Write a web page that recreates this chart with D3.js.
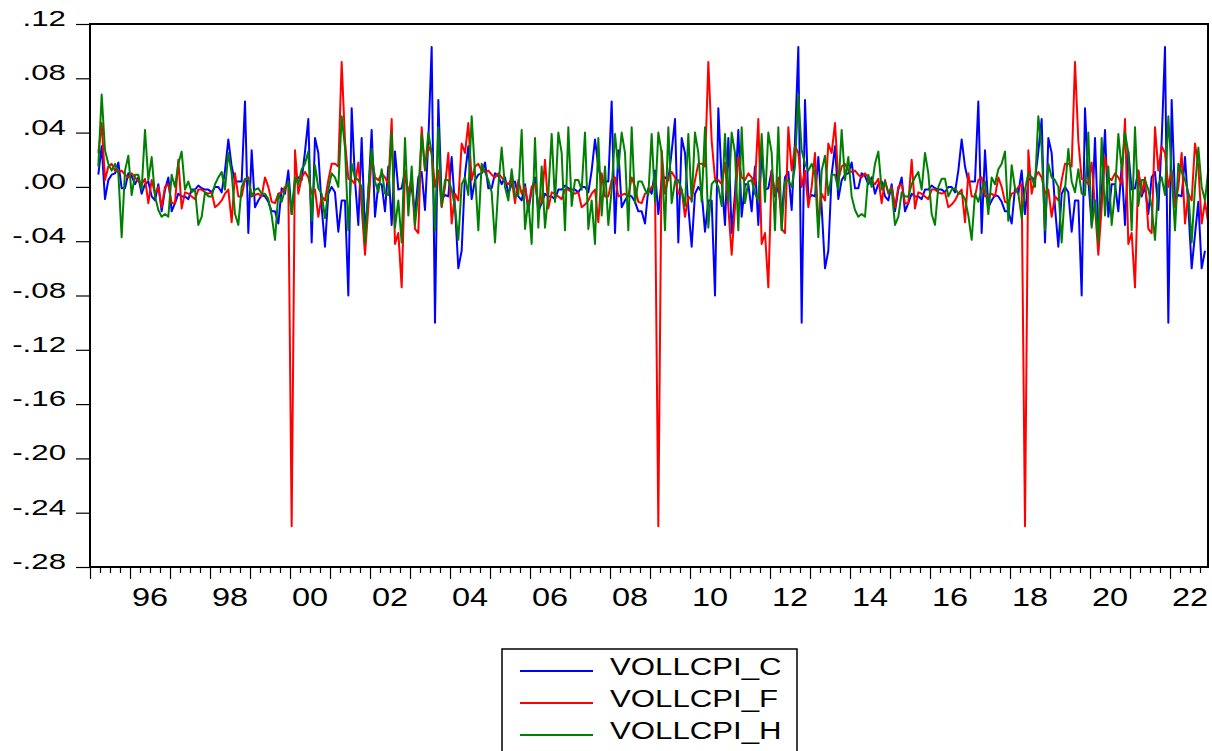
<!DOCTYPE html>
<html>
<head>
<meta charset="utf-8">
<script src="https://cdn.jsdelivr.net/npm/d3@7"></script>
<style>
  body { margin: 0; background: #fff; }
  svg { display: block; }
  text { font-family: "Liberation Sans", Arial, sans-serif; fill: #000; }
</style>
</head>
<body>
<script>
// monthly series, first observation 1995M3
const startYear = 1995;
const startMonth = 3;

const volC = [
  .009, .030, -.009, .005, .009, .010, .018, -.001, -.001, .010,
  .008, .002, .007, -.005, .002, .004, -.007, -.010, .002, -.018,
  -.002, .007, -.018, -.012, -.005, -.007, -.007, -.009, -.002, -.002,
  .001, -.001, -.002, -.002, -.004, .000, .000, -.004, .012, .035,
  .015, .004, .004, .004, .063, -.034, .027, -.015, -.010, -.006,
  -.007, -.011, -.018, -.018, -.027, -.001, -.005, .012, -.020, .005,
  .007, .005, .026, .050, -.041, .036, .025, -.015, -.044, -.005,
  .000, -.004, -.033, -.010, -.010, -.080, .058, .005, -.028, .036,
  -.034, -.005, .042, -.022, .002, .002, -.018, .015, -.028, .026,
  -.002, -.001, .012, -.007, .000, -.020, .007, .011, -.017, .034,
  .103, -.100, .064, -.009, -.006, -.007, .022, -.015, -.060, -.047,
  .009, .030, -.009, .005, .009, .010, .018, -.001, -.001, .010,
  .008, .002, .007, -.005, .002, .004, -.007, -.010, .002, -.018,
  -.002, .007, -.018, -.012, -.005, -.007, -.007, -.009, -.002, -.002,
  .001, -.001, -.002, -.002, -.004, .000, .000, -.004, .012, .035,
  .015, .004, .004, .004, .063, -.034, .027, -.015, -.010, -.006,
  -.007, -.011, -.018, -.018, -.027, -.001, -.005, .012, -.020, .005,
  .007, .005, .026, .050, -.041, .036, .025, -.015, -.044, -.005,
  .000, -.004, -.033, -.010, -.010, -.080, .058, .005, -.028, .036,
  -.034, -.005, .042, -.022, .002, .002, -.018, .015, -.028, .026,
  -.002, -.001, .012, -.007, .000, -.020, .007, .011, -.017, .034,
  .103, -.100, .064, -.009, -.006, -.007, .022, -.015, -.060, -.047,
  .009, .030, -.009, .005, .009, .010, .018, -.001, -.001, .010,
  .008, .002, .007, -.005, .002, .004, -.007, -.010, .002, -.018,
  -.002, .007, -.018, -.012, -.005, -.007, -.007, -.009, -.002, -.002,
  .001, -.001, -.002, -.002, -.004, .000, .000, -.004, .012, .035,
  .015, .004, .004, .004, .063, -.034, .027, -.015, -.010, -.006,
  -.007, -.011, -.018, -.018, -.027, -.001, -.005, .012, -.020, .005,
  .007, .005, .026, .050, -.041, .036, .025, -.015, -.044, -.005,
  .000, -.004, -.033, -.010, -.010, -.080, .058, .005, -.028, .036,
  -.034, -.005, .042, -.022, .002, .002, -.018, .015, -.028, .026,
  -.002, -.001, .012, -.007, .000, -.020, .007, .011, -.017, .034,
  .103, -.100, .064, -.009, -.006, -.007, .022, -.015, -.060, -.035,
  -.011, -.060, -.047
];

const volF = [
  .025, .047, .005, .015, .017, .012, .011, .012, .009, .007,
  .010, .007, .004, .002, .006, -.012, .005, -.005, .000, -.015,
  .000, .002, -.012, -.012, .020, -.016, -.004, -.005, -.007, -.009,
  -.002, -.002, -.004, -.005, -.004, -.015, -.013, -.010, -.005, -.002,
  -.026, .010, -.007, -.007, .005, .007, -.007, -.006, -.005, -.007,
  .007, .000, -.011, -.012, -.005, -.004, .000, .002, -.250, .027,
  -.005, .007, .011, .007, -.005, -.002, -.022, -.007, -.010, .005,
  .017, .017, .015, .092, .034, .006, .005, .002, .018, -.015,
  -.050, -.015, .022, .007, .005, .010, .007, .002, .050, -.042,
  -.034, -.074, .012, -.005, .007, -.031, -.034, .044, .012, .030,
  .025, .000, .012, -.015, .000, .025, -.027, -.005, -.010, .032,
  .025, .047, .005, .015, .017, .012, .011, .012, .009, .007,
  .010, .007, .004, .002, .006, -.012, .005, -.005, .000, -.015,
  .000, .002, -.012, -.012, .020, -.016, -.004, -.005, -.007, -.009,
  -.002, -.002, -.004, -.005, -.004, -.015, -.013, -.010, -.005, -.002,
  -.026, .010, -.007, -.007, .005, .007, -.007, -.006, -.005, -.007,
  .007, .000, -.011, -.012, -.005, -.004, .000, .002, -.250, .027,
  -.005, .007, .011, .007, -.005, -.002, -.022, -.007, -.010, .005,
  .017, .017, .015, .092, .034, .006, .005, .002, .018, -.015,
  -.050, -.015, .022, .007, .005, .010, .007, .002, .050, -.042,
  -.034, -.074, .012, -.005, .007, -.031, -.034, .044, .012, .030,
  .025, .000, .012, -.015, .000, .025, -.027, -.005, -.010, .032,
  .025, .047, .005, .015, .017, .012, .011, .012, .009, .007,
  .010, .007, .004, .002, .006, -.012, .005, -.005, .000, -.015,
  .000, .002, -.012, -.012, .020, -.016, -.004, -.005, -.007, -.009,
  -.002, -.002, -.004, -.005, -.004, -.015, -.013, -.010, -.005, -.002,
  -.026, .010, -.007, -.007, .005, .007, -.007, -.006, -.005, -.007,
  .007, .000, -.011, -.012, -.005, -.004, .000, .002, -.250, .027,
  -.005, .007, .011, .007, -.005, -.002, -.022, -.007, -.010, .005,
  .017, .017, .015, .092, .034, .006, .005, .002, .018, -.015,
  -.050, -.015, .022, .007, .005, .010, .007, .002, .050, -.042,
  -.034, -.074, .012, -.005, .007, -.031, -.034, .044, .012, .030,
  .025, .000, .012, -.015, .000, .025, -.027, -.005, -.010, .032,
  .015, -.027, -.011, -.027
];

const volH = [
  .015, .068, .027, .017, .012, .017, .010, -.037, .012, .023,
  -.006, .009, .009, -.002, .042, .005, .022, -.007, -.017, -.022,
  -.020, -.022, .009, .000, .017, .026, -.002, .004, -.004, -.002,
  -.028, -.022, -.004, -.007, -.007, .002, .007, .011, -.002, .025,
  .010, -.020, -.028, .000, .006, .006, -.007, -.002, -.001, -.005,
  -.005, -.009, -.021, -.039, -.005, -.011, -.002, .004, -.020, .007,
  .002, .013, .017, .026, -.025, .016, -.001, -.005, -.023, -.002,
  .010, .007, .000, .052, .029, -.032, .017, .007, .005, .000,
  -.041, -.002, .028, .004, -.004, .013, -.005, -.006, .040, -.030,
  -.010, -.041, .036, -.021, .015, -.028, -.004, .039, .013, .040,
  .025, -.032, .044, -.014, .005, .005, -.002, -.015, -.039, .002,
  .007, -.006, .052, .010, -.032, .017, .011, .005, -.004, -.041,
  .000, .029, .000, -.010, .013, -.007, -.006, .042, -.031, -.010,
  -.042, .036, -.030, .015, -.030, -.005, .039, -.011, .040, .025,
  -.032, .044, -.014, .005, .005, -.002, .040, -.031, -.010, -.042,
  .036, -.021, .015, -.028, -.002, .039, .013, .040, .025, -.032,
  .044, -.012, .004, .004, -.002, -.006, .039, -.011, .040, .025,
  -.032, .044, -.012, .004, .005, -.002, -.014, .039, -.011, .040,
  .025, -.011, .044, -.030, .002, .005, .000, -.014, .039, -.011,
  .040, .025, -.032, .044, -.012, .004, .005, -.005, -.010, .039,
  -.011, .040, .025, -.032, .044, -.032, .004, .005, .000,
  .015, .068, .027, .017, .012, .017, .010, -.037, .012, .023,
  -.006, .009, .009, -.002, .042, .005, .022, -.007, -.017, -.022,
  -.020, -.022, .009, .000, .017, .026, -.002, .004, -.004, -.002,
  -.028, -.022, -.004, -.007, -.007, .002, .007, .011, -.002, .025,
  .010, -.020, -.028, .000, .006, .006, -.007, -.002, -.001, -.005,
  -.005, -.009, -.021, -.039, -.005, -.011, -.002, .004, -.020, .007,
  .002, .013, .017, .026, -.025, .016, -.001, -.005, -.023, -.002,
  .010, .007, .000, .052, .029, -.032, .017, .007, .005, .000,
  -.041, -.002, .028, .004, -.004, .013, -.005, -.006, .040, -.030,
  -.010, -.041, .036, -.021, .015, -.028, -.004, .039, .013, .040,
  .025, -.032, .044, -.014, .005, .005, -.002, -.015, -.039, .002,
  .007, -.006, .052, .010, -.032, .017, .011, .005, -.004, -.041,
  .000, .029, .000, -.010, .013
];

const seriesNames = ["VOLLCPI_C", "VOLLCPI_F", "VOLLCPI_H"];
const seriesColors = ["#0000ff", "#ff0000", "#008000"];

const yTicks = [0.12, 0.08, 0.04, 0, -0.04, -0.08, -0.12, -0.16, -0.20, -0.24, -0.28];
const yTickLabels = [".12", ".08", ".04", ".00", "-.04", "-.08", "-.12", "-.16", "-.20", "-.24", "-.28"];
const xLabelYears = [1996, 1998, 2000, 2002, 2004, 2006, 2008, 2010, 2012, 2014, 2016, 2018, 2020, 2022];
const xTickLabels = ["96", "98", "00", "02", "04", "06", "08", "10", "12", "14", "16", "18", "20", "22"];

const w = 1212;
const h = 751;
const plotLeft = 90, plotRight = 1208, plotTop = 24, plotBottom = 567;

const svg = d3.select("body").append("svg").attr("width", w).attr("height", h);

const xScale = d3.scaleLinear()
  .domain([1995, 1995 + (plotRight - plotLeft) / 40])
  .range([plotLeft, plotRight]);
const yScale = d3.scaleLinear().domain([-0.28, 0.12]).range([plotBottom, plotTop]);

const toTime = (i) => startYear + (startMonth - 1 + i + 0.5) / 12;

// x axis: year ticks + quarter ticks
const years = d3.range(1995, 2023);
const quarters = d3.range(1995, 2022.9, 0.25).filter((q) => q % 1 !== 0);

svg.append("g")
  .attr("transform", "translate(0," + plotBottom + ")")
  .call(d3.axisBottom(xScale).tickValues(quarters).tickSize(6).tickFormat(""))
  .call((g) => g.select(".domain").remove())
  .selectAll("line").attr("stroke", "#000").attr("stroke-width", 1.2);

svg.append("g")
  .attr("transform", "translate(0," + plotBottom + ")")
  .call(d3.axisBottom(xScale).tickValues(years).tickSize(12).tickFormat(""))
  .call((g) => g.select(".domain").remove())
  .selectAll("line").attr("stroke", "#000").attr("stroke-width", 1.2);

svg.append("g")
  .selectAll("text")
  .data(xLabelYears)
  .enter()
  .append("text")
  .attr("transform", (d) => "translate(" + xScale(d + 0.5) + ",606) scale(1.3,1)")
  .attr("text-anchor", "middle")
  .style("font-size", "25px")
  .text((d, i) => xTickLabels[i]);

// y axis
svg.append("g")
  .attr("transform", "translate(" + plotLeft + ",0)")
  .call(d3.axisLeft(yScale).tickValues(yTicks).tickSize(14).tickFormat(""))
  .call((g) => g.select(".domain").remove())
  .selectAll("line").attr("stroke", "#000").attr("stroke-width", 1.2);

svg.append("g")
  .selectAll("text")
  .data(yTicks)
  .enter()
  .append("text")
  .attr("transform", (d) => "translate(66," + (yScale(d) + 2) + ") scale(1.42,1)")
  .attr("text-anchor", "end")
  .style("font-size", "22px")
  .text((d, i) => yTickLabels[i]);

// series
const line = d3.line()
  .x((d, i) => xScale(toTime(i)))
  .y((d) => yScale(d));

[volC, volF, volH].forEach((s, k) => {
  svg.append("path")
    .datum(s)
    .attr("d", line)
    .attr("fill", "none")
    .attr("stroke", seriesColors[k])
    .attr("stroke-width", 2)
    .attr("stroke-linejoin", "round");
});

// frame
svg.append("rect")
  .attr("x", plotLeft)
  .attr("y", plotTop)
  .attr("width", plotRight - plotLeft)
  .attr("height", plotBottom - plotTop)
  .attr("fill", "none")
  .attr("stroke", "#000")
  .attr("stroke-width", 2);

// legend
const legend = svg.append("g");
legend.append("rect")
  .attr("x", 502)
  .attr("y", 649)
  .attr("width", 295)
  .attr("height", 130)
  .attr("fill", "#fff")
  .attr("stroke", "#000")
  .attr("stroke-width", 1.5);

seriesNames.forEach((name, k) => {
  const ly = 671 + k * 32;
  legend.append("line")
    .attr("x1", 520).attr("x2", 593)
    .attr("y1", ly).attr("y2", ly)
    .attr("stroke", seriesColors[k])
    .attr("stroke-width", 2);
  legend.append("text")
    .attr("transform", "translate(610," + (ly + 4) + ") scale(1.3,1)")
    .style("font-size", "24px")
    .text(name);
});
</script>
</body>
</html>
